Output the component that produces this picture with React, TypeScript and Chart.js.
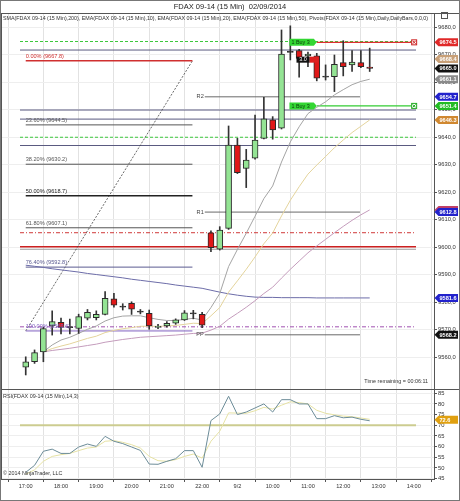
import React, { useEffect, useRef } from "react";
import { Chart, registerables } from "chart.js";

Chart.register(...registerables);

const FONT = "'Liberation Sans', Arial, sans-serif";

// ---------- data ----------
const xTickIdx = [0, 4, 8, 12, 16, 20, 24, 28, 32, 36, 40, 44];
const xTickLabels = ["17:00", "18:00", "19:00", "20:00", "21:00", "22:00", "9/2", "10:00", "11:00", "12:00", "13:00", "14:00"];
const priceTicks = [9560, 9570, 9580, 9590, 9600, 9610, 9620, 9630, 9640, 9650, 9660, 9670, 9680];
const rsiTicks = [45, 50, 55, 60, 65, 70, 75, 80, 85];

const opens = [9556.4, 9558.4, 9562.0, 9571.4, 9572.7, 9571.0, 9570.5, 9574.2, 9574.4, 9575.6, 9581.3, 9578.4, 9579.6, 9576.6, 9576.0, 9570.9, 9571.4, 9572.4, 9573.6, 9576.0, 9575.6,
  9605.3, 9599.3, 9606.9, 9637.2, 9628.7, 9632.4, 9639.6, 9646.3, 9643.3, 9671.0, 9671.5, 9669.6, 9669.6, 9662.0, 9662.0, 9667.1, 9666.3, 9667.1, 9665.5];
const highs = [9560.2, 9562.7, 9571.0, 9576.9, 9574.3, 9573.9, 9575.7, 9577.4, 9576.9, 9583.9, 9583.3, 9579.5, 9580.2, 9577.4, 9577.2, 9572.0, 9573.0, 9574.0, 9577.0, 9577.1, 9576.4,
  9606.0, 9607.5, 9644.1, 9639.6, 9635.6, 9648.1, 9654.5, 9647.5, 9679.0, 9680.5, 9672.0, 9671.0, 9670.5, 9666.3, 9669.9, 9675.1, 9671.5, 9671.5, 9672.4];
const lows = [9553.6, 9557.8, 9558.4, 9568.1, 9568.5, 9568.5, 9568.7, 9573.6, 9573.6, 9575.4, 9578.2, 9577.2, 9575.6, 9575.8, 9570.2, 9570.4, 9571.0, 9572.0, 9573.4, 9574.0, 9570.8,
  9598.4, 9599.0, 9606.5, 9626.8, 9621.7, 9632.0, 9639.4, 9639.3, 9643.0, 9668.1, 9661.8, 9665.7, 9660.5, 9660.8, 9656.6, 9662.3, 9663.9, 9665.3, 9663.9];
const closes = [9558.4, 9561.7, 9570.5, 9573.0, 9570.9, 9571.1, 9574.8, 9576.4, 9575.6, 9581.5, 9579.0, 9578.5, 9577.5, 9576.7, 9571.4, 9571.3, 9572.4, 9573.6, 9576.2, 9576.1, 9571.7,
  9599.9, 9606.3, 9637.2, 9627.1, 9631.7, 9639.0, 9646.7, 9642.7, 9670.2, 9671.1, 9668.7, 9670.2, 9661.5, 9662.1, 9666.5, 9665.7, 9667.3, 9665.7, 9665.0];

const sma200 = [9593.5, 9593.1, 9592.7, 9592.2, 9591.8, 9591.4, 9591.0, 9590.5, 9590.1, 9589.7, 9589.3, 9588.9, 9588.4, 9588.0, 9587.6, 9587.2, 9586.8, 9586.3, 9585.9, 9585.5, 9585.1,
  9584.4, 9583.7, 9583.1, 9582.6, 9582.2, 9581.9, 9581.8, 9581.8, 9581.7, 9581.7, 9581.7, 9581.7, 9581.6, 9581.6, 9581.6, 9581.6, 9581.6, 9581.6, 9581.6];
const ema10 = [null, null, 9562.0, 9564.5, 9566.3, 9567.3, 9568.7, 9570.2, 9571.4, 9573.2, 9574.4, 9575.0, 9575.1, 9575.1, 9574.4, 9573.8, 9573.4, 9573.4, 9573.8, 9574.2, 9573.6,
  9578.1, 9583.2, 9593.0, 9599.2, 9605.1, 9611.3, 9617.7, 9622.3, 9631.0, 9638.3, 9643.8, 9648.6, 9650.9, 9652.9, 9655.4, 9657.3, 9659.1, 9660.3, 9661.1];
const ema20 = [null, null, 9562.0, 9563.2, 9564.1, 9564.9, 9565.9, 9566.9, 9567.7, 9569.0, 9569.8, 9570.4, 9570.8, 9571.3, 9571.3, 9571.3, 9571.4, 9571.6, 9572.0, 9572.4, 9572.3,
  9575.1, 9578.1, 9583.7, 9587.8, 9592.0, 9596.5, 9601.3, 9605.2, 9611.4, 9617.1, 9622.0, 9626.6, 9629.9, 9633.0, 9636.2, 9639.0, 9641.7, 9644.0, 9646.3];
const ema50 = [null, null, 9562.0, 9562.5, 9562.9, 9563.3, 9563.8, 9564.3, 9564.8, 9565.5, 9566.0, 9566.5, 9566.9, 9567.3, 9567.5, 9567.7, 9567.9, 9568.1, 9568.4, 9568.7, 9568.8,
  9569.9, 9571.3, 9573.9, 9576.0, 9578.2, 9580.6, 9583.2, 9585.5, 9588.8, 9592.0, 9595.0, 9598.0, 9600.5, 9602.9, 9605.3, 9607.6, 9609.8, 9611.8, 9613.6];

const rsi = [47.9, 51.2, 57.8, 58.8, 56.8, 56.8, 59.8, 61.2, 60.1, 64.8, 62.5, 61.4, 59.8, 58.2, 51.8, 51.7, 53.1, 54.3, 58.1, 58.1, 50.3,
  72.2, 75.3, 83.6, 75.0, 76.2, 78.1, 80.0, 76.2, 82.0, 82.0, 80.0, 80.0, 73.1, 73.1, 74.5, 73.5, 73.8, 72.8, 72.1];
const rsiAvg = [47.0, 49.1, 53.1, 55.4, 56.2, 56.8, 58.1, 59.3, 59.8, 62.5, 62.8, 62.0, 60.9, 59.3, 55.4, 53.4, 53.1, 53.9, 55.4, 56.5, 54.6,
  62.5, 67.2, 75.8, 75.7, 75.6, 76.8, 78.4, 77.6, 79.4, 81.0, 80.6, 80.0, 77.0, 75.6, 74.9, 74.3, 74.0, 73.4, 72.8];
const rsiLevel = 70;

const fibLevels = ["0.00%", "23.60%", "38.20%", "50.00%", "61.80%", "76.40%", "100.00%"];
const fibPrices = [9667.8, 9644.5, 9630.2, 9618.7, 9607.1, 9592.8, 9569.6];
const pivotNames = ["R2", "R1", "PP"];
const pivotPrices = [9654.7, 9612.8, 9568.2];
const hLinePrices = [9674.8, 9671.7, 9649.9, 9646.6, 9640.0, 9637.0, 9605.3, 9600.2, 9599.3, 9571.1];
const orderPrices = [9674.5, 9651.4];
const orderTexts = ["1 Buy 3", "1 Buy 3"];
const positionPrice = 9668.2;
const positionText = "3.0";
const tagValues = [9674.5, 9668.4, 9665.0, 9661.1, 9654.7, 9651.4, 9646.3, 9613.6, 9612.8, 9581.6, 9568.2];
const rsiTagValue = 72.6;

// ---------- styles ----------
const hLineStyles = [
  { c: "#3cc83c", d: [3, 2], w: 1 },
  { c: "#5a5a80", d: [], w: 1 },
  { c: "#5a5a80", d: [], w: 1 },
  { c: "#5a5a80", d: [], w: 1 },
  { c: "#3cc83c", d: [3, 2], w: 1 },
  { c: "#5a5a80", d: [], w: 1 },
  { c: "#d03838", d: [4, 2, 1, 2], w: 1 },
  { c: "#cc2020", d: [], w: 1.5 },
  { c: "#9a9a9a", d: [], w: 1 },
  { c: "#a050b0", d: [4, 2, 1, 2], w: 1 },
];
const fibColors = ["#d03030", "#555555", "#555555", "#222222", "#555555", "#5a5a90", "#8060c0"];
const fibWidths = [1.5, 1, 1, 1.5, 1, 1, 1];
const tagColors = ["#e02828", "#c8a078", "#111111", "#8a8a8a", "#2222cc", "#22bb22", "#d08830", "#c04068", "#2222cc", "#2222cc", "#111111"];

const X_MIN = -0.65;
const X_MAX = 44.25;
const FIB_X0 = 0;
const FIB_X1 = 18.9;
const PIV_X0 = 20.3;
const PIV_X1 = 37.9;
const ORD_X0 = 29.9;
const ORD_X1 = 33.0;
const ORD_X2 = 43.7;

function hline(y: number, x0: number, x1: number, color: string, dash: number[], width: number, axis = "y", order = 10) {
  return {
    type: "line",
    data: [{ x: x0, y }, { x: x1, y }],
    borderColor: color,
    borderDash: dash,
    borderWidth: width,
    pointRadius: 0,
    yAxisID: axis,
    order,
  };
}

function series(values: (number | null)[], color: string, width: number, axis = "y", order = 5) {
  const pts: any[] = [];
  values.forEach((v, i) => {
    if (v !== null) pts.push({ x: i, y: v });
  });
  return {
    type: "line",
    data: pts,
    borderColor: color,
    borderWidth: width,
    pointRadius: 0,
    tension: 0,
    yAxisID: axis,
    order,
  };
}

const overlay = {
  id: "overlay",
  afterDraw(chart: any) {
    const ctx = chart.ctx;
    const xs = chart.scales.x;
    const ys = chart.scales.y;
    const ys2 = chart.scales.y2;
    const ca = chart.chartArea;
    const W = chart.width;
    const H = chart.height;
    ctx.save();

    // frame and pane separator
    ctx.strokeStyle = "#555";
    ctx.lineWidth = 1;
    ctx.strokeRect(ca.left - 0.5, ca.top - 0.5, ca.right - ca.left + 1, ca.bottom - ca.top + 1);
    const sepY = Math.round(Math.min(ys.bottom, ys2.bottom)) + 0.5;
    ctx.beginPath();
    ctx.moveTo(ca.left, sepY);
    ctx.lineTo(W, sepY);
    ctx.stroke();
    ctx.beginPath();
    ctx.moveTo(ca.right + 0.5, ca.top - 0.5);
    ctx.lineTo(W, ca.top - 0.5);
    ctx.stroke();
    ctx.strokeStyle = "#777";
    ctx.strokeRect(0.5, 0.5, W - 1, H - 1);

    // title
    ctx.fillStyle = "#222";
    ctx.font = `7.5px ${FONT}`;
    ctx.textAlign = "center";
    ctx.textBaseline = "middle";
    ctx.fillText("FDAX 09-14 (15 Min)  02/09/2014", W / 2, 6.5);

    // legend line
    const legend = "SMA(FDAX 09-14 (15 Min),200), EMA(FDAX 09-14 (15 Min),10), EMA(FDAX 09-14 (15 Min),20), EMA(FDAX 09-14 (15 Min),50), Pivots(FDAX 09-14 (15 Min),Daily,DailyBars,0,0,0)";
    ctx.font = `6px ${FONT}`;
    const lw = ctx.measureText(legend).width;
    const fs = (6 * 426) / lw;
    ctx.font = `${fs.toFixed(2)}px ${FONT}`;
    ctx.textAlign = "left";
    ctx.fillStyle = "#333";
    ctx.fillText(legend, ca.left + 1, ys.top + 4.5);

    // top-right icon
    ctx.strokeStyle = "#555";
    ctx.strokeRect(441.5, 12.5, 6, 6);

    // fib labels
    ctx.font = `5.6px ${FONT}`;
    ctx.textBaseline = "bottom";
    fibPrices.forEach((p, i) => {
      ctx.fillStyle = fibColors[i];
      ctx.fillText(`${fibLevels[i]} (${p.toFixed(1)})`, xs.getPixelForValue(FIB_X0), ys.getPixelForValue(p) - 1.5);
    });

    // pivot labels
    ctx.fillStyle = "#444";
    ctx.textAlign = "right";
    ctx.textBaseline = "middle";
    pivotPrices.forEach((p, i) => {
      ctx.fillText(pivotNames[i], xs.getPixelForValue(PIV_X0) - 1, ys.getPixelForValue(p));
    });

    // order flags
    orderPrices.forEach((p, i) => {
      const y = ys.getPixelForValue(p);
      const x0 = xs.getPixelForValue(ORD_X0);
      const x1 = xs.getPixelForValue(ORD_X1);
      ctx.fillStyle = "#33d633";
      ctx.beginPath();
      ctx.moveTo(x0, y - 3.5);
      ctx.lineTo(x1 - 3, y - 3.5);
      ctx.lineTo(x1, y);
      ctx.lineTo(x1 - 3, y + 3.5);
      ctx.lineTo(x0, y + 3.5);
      ctx.closePath();
      ctx.fill();
      ctx.fillStyle = "#0a3a0a";
      ctx.textAlign = "left";
      ctx.font = `5.4px ${FONT}`;
      ctx.fillText(orderTexts[i], x0 + 2, y + 0.3);
      const xe = xs.getPixelForValue(ORD_X2);
      ctx.strokeStyle = i === 0 ? "#cc2020" : "#22aa22";
      ctx.fillStyle = "#fff";
      ctx.fillRect(xe, y - 2.5, 5, 5);
      ctx.strokeRect(xe + 0.5, y - 2.5, 5, 5);
      ctx.beginPath();
      ctx.moveTo(xe + 1.5, y - 1.5);
      ctx.lineTo(xe + 4.5, y + 1.5);
      ctx.moveTo(xe + 4.5, y - 1.5);
      ctx.lineTo(xe + 1.5, y + 1.5);
      ctx.stroke();
    });

    // position box
    {
      const y = ys.getPixelForValue(positionPrice);
      const x0 = xs.getPixelForValue(30.7);
      const x1 = xs.getPixelForValue(32.2);
      const x2 = xs.getPixelForValue(33.2);
      ctx.fillStyle = "#111";
      ctx.fillRect(x0, y - 3, x1 - x0, 6);
      ctx.fillStyle = "#dd2020";
      ctx.fillRect(x1, y - 3, x2 - x1, 6);
      ctx.fillStyle = "#fff";
      ctx.textAlign = "center";
      ctx.font = `5.4px ${FONT}`;
      ctx.fillText(positionText, (x0 + x1) / 2, y + 0.3);
    }

    // right tags
    const tag = (y: number, color: string, text: string) => {
      const x0 = ca.right + 0.5;
      ctx.fillStyle = color;
      ctx.beginPath();
      ctx.moveTo(x0, y);
      ctx.lineTo(x0 + 4, y - 4);
      ctx.lineTo(W - 2, y - 4);
      ctx.lineTo(W - 2, y + 4);
      ctx.lineTo(x0 + 4, y + 4);
      ctx.closePath();
      ctx.fill();
      ctx.fillStyle = "#fff";
      ctx.textAlign = "left";
      ctx.font = `bold 5.6px ${FONT}`;
      ctx.fillText(text, x0 + 5, y + 0.3);
    };
    tagValues.forEach((v, i) => tag(ys.getPixelForValue(v), tagColors[i], v.toFixed(1)));
    tag(ys2.getPixelForValue(rsiTagValue), "#e0a010", rsiTagValue.toFixed(1));

    // misc texts
    ctx.fillStyle = "#333";
    ctx.font = `5.4px ${FONT}`;
    ctx.textAlign = "right";
    ctx.textBaseline = "middle";
    ctx.fillText("Time remaining = 00:06:11", ca.right - 6, ys.bottom - 7);
    ctx.textAlign = "left";
    ctx.fillText("RSI(FDAX 09-14 (15 Min),14,3)", ca.left + 1, ys2.top + 8);
    ctx.fillText("\u00A9 2014 NinjaTrader, LLC", ca.left + 1, ys2.bottom - 5);

    ctx.restore();
  },
};

export default function App() {
  const ref = useRef<HTMLCanvasElement | null>(null);

  useEffect(() => {
    document.body.style.margin = "0";
    const canvas = ref.current;
    if (!canvas) return;

    const datasets: any[] = [];
    // candle bodies (top-most)
    datasets.push({
      type: "bar",
      data: opens.map((o, i) => {
        const c = closes[i];
        if (Math.abs(c - o) < 0.35) return { x: i, y: [o - 0.2, o + 0.2] };
        return { x: i, y: [o, c] };
      }),
      backgroundColor: opens.map((o, i) => {
        const c = closes[i];
        if (Math.abs(c - o) < 0.35) return "#333";
        return c >= o ? "#94e494" : "#e01818";
      }),
      borderColor: "#2a2a2a",
      borderWidth: 1,
      borderSkipped: false,
      barThickness: 6,
      grouped: false,
      yAxisID: "y",
      order: 0,
    });
    // wicks
    datasets.push({
      type: "bar",
      data: lows.map((l, i) => ({ x: i, y: [l, highs[i]] })),
      backgroundColor: "#333",
      borderWidth: 0,
      barThickness: 1,
      grouped: false,
      yAxisID: "y",
      order: 1,
    });
    // indicators
    datasets.push(series(ema10, "#a4a4a4", 1, "y", 3));
    datasets.push(series(ema20, "#e4d49c", 1, "y", 3));
    datasets.push(series(ema50, "#c49cbc", 1, "y", 3));
    datasets.push(series(sma200, "#6c6ca8", 1, "y", 3));
    // pivots
    pivotPrices.forEach((p) => datasets.push(hline(p, PIV_X0, PIV_X1, "#6a6a6a", [], 1, "y", 6)));
    // fibonacci
    fibPrices.forEach((p, i) => datasets.push(hline(p, FIB_X0, FIB_X1, fibColors[i], [], fibWidths[i], "y", 7)));
    datasets.push({
      type: "line",
      data: [{ x: FIB_X0, y: fibPrices[fibPrices.length - 1] }, { x: FIB_X1, y: fibPrices[0] }],
      borderColor: "#444",
      borderDash: [2, 1.5],
      borderWidth: 0.8,
      pointRadius: 0,
      yAxisID: "y",
      order: 7,
    });
    // horizontal drawn lines
    hLinePrices.forEach((p, i) => datasets.push(hline(p, X_MIN, X_MAX, hLineStyles[i].c, hLineStyles[i].d, hLineStyles[i].w, "y", 8)));
    // order lines
    datasets.push(hline(orderPrices[0], ORD_X1, ORD_X2, "#dd3030", [], 1.2, "y", 4));
    datasets.push(hline(orderPrices[1], ORD_X1, ORD_X2, "#33cc33", [], 1.2, "y", 4));
    // RSI pane
    datasets.push(hline(rsiLevel, X_MIN, X_MAX, "#cccc90", [], 2, "y2", 9));
    datasets.push(series(rsiAvg, "#e6e2a4", 1, "y2", 2));
    datasets.push(series(rsi, "#6c8c98", 1, "y2", 1));

    const chart = new Chart(canvas, {
      type: "line",
      data: { datasets },
      plugins: [overlay],
      options: {
        responsive: false,
        animation: false,
        events: [],
        layout: { padding: { left: 2, top: 14, right: 0, bottom: 8 } },
        plugins: { legend: { display: false }, tooltip: { enabled: false } },
        scales: {
          x: {
            type: "linear",
            min: X_MIN,
            max: X_MAX,
            afterBuildTicks: (axis: any) => {
              axis.ticks = xTickIdx.map((v) => ({ value: v }));
            },
            afterFit: (axis: any) => {
              axis.height = 14;
            },
            ticks: {
              autoSkip: false,
              maxRotation: 0,
              padding: 1,
              font: { family: FONT, size: 5.6 },
              color: "#333",
              callback: (v: any) => {
                const k = xTickIdx.indexOf(Number(v));
                return k >= 0 ? xTickLabels[k] : "";
              },
            },
            grid: { color: "#e2e2e2", tickColor: "#555", tickLength: 3 },
            border: { color: "#555" },
          },
          y: {
            type: "linear",
            position: "right",
            stack: "panes",
            stackWeight: 375,
            weight: 1,
            min: 9548.5,
            max: 9684.8,
            afterBuildTicks: (axis: any) => {
              axis.ticks = priceTicks.map((v) => ({ value: v }));
            },
            afterFit: (axis: any) => {
              axis.width = 26;
            },
            ticks: {
              autoSkip: false,
              padding: 1,
              font: { family: FONT, size: 5.8 },
              color: "#333",
              callback: (v: any) => Number(v).toFixed(1).replace(".", ","),
            },
            grid: { color: "#eeeeee", tickColor: "#555", tickLength: 3 },
            border: { color: "#555" },
          },
          y2: {
            type: "linear",
            position: "right",
            stack: "panes",
            stackWeight: 90,
            weight: 2,
            min: 44.8,
            max: 87.0,
            afterBuildTicks: (axis: any) => {
              axis.ticks = rsiTicks.map((v) => ({ value: v }));
            },
            afterFit: (axis: any) => {
              axis.width = 26;
            },
            ticks: {
              autoSkip: false,
              padding: 1,
              font: { family: FONT, size: 5.8 },
              color: "#333",
              callback: (v: any) => String(v),
            },
            grid: { color: "#eeeeee", tickColor: "#555", tickLength: 3 },
            border: { color: "#555" },
          },
        },
      },
    } as any);

    return () => chart.destroy();
  }, []);

  return (
    <div style={{ width: 460, height: 501, position: "relative", background: "#fff" }}>
      <canvas ref={ref} width={460} height={501} style={{ display: "block" }} />
    </div>
  );
}
